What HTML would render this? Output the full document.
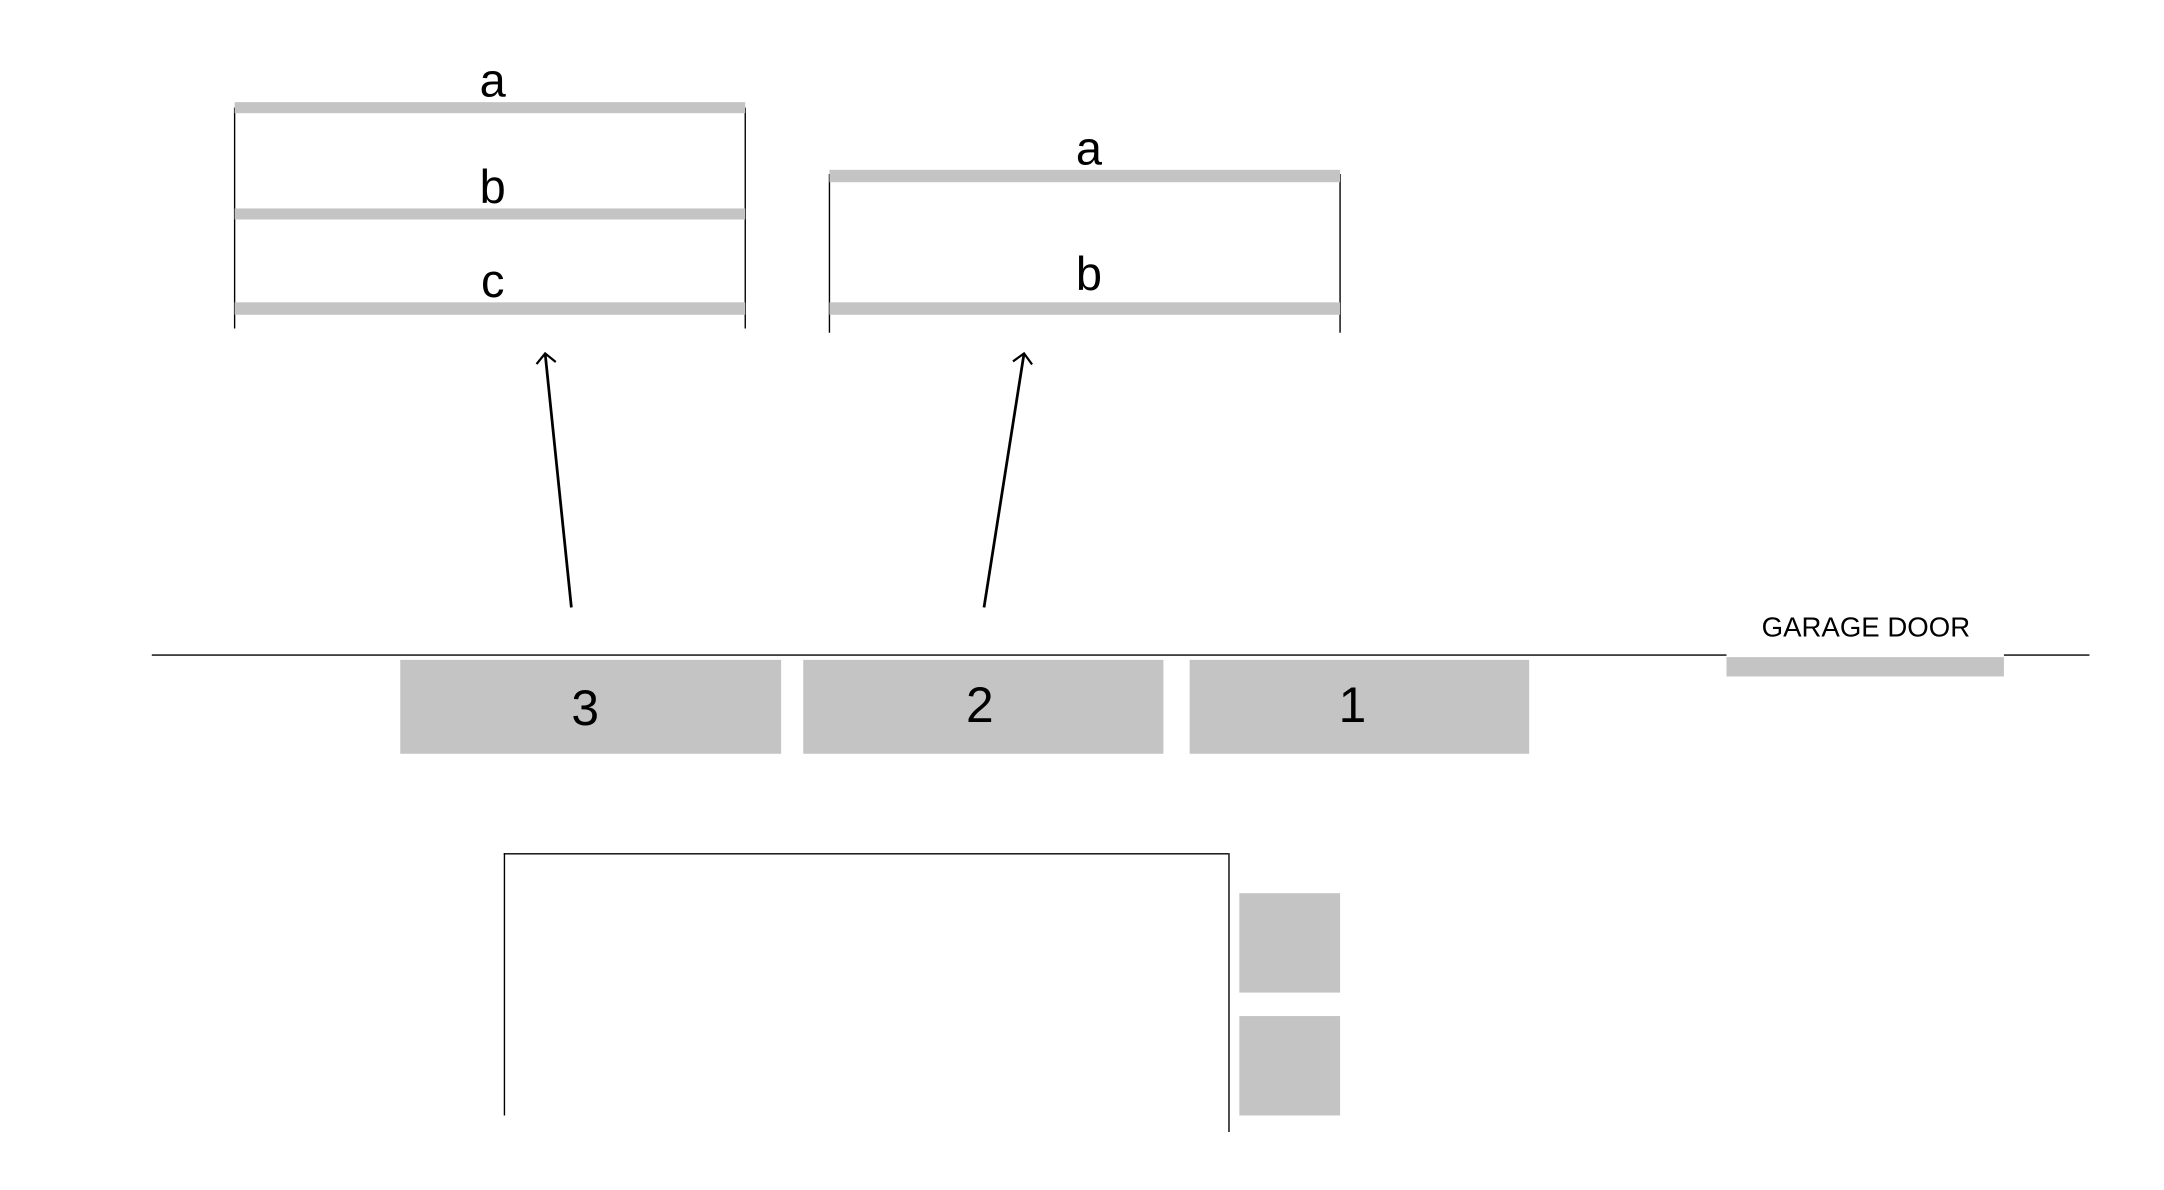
<!DOCTYPE html>
<html><head><meta charset="utf-8"><style>
html,body{margin:0;padding:0;background:#fff;}
svg{display:block;}
text{font-family:"Liberation Sans",sans-serif;fill:#000;}
</style></head><body>
<svg width="2164" height="1190" viewBox="0 0 1568 862" preserveAspectRatio="none" xmlns="http://www.w3.org/2000/svg">
<defs><marker id="ah" markerWidth="16" markerHeight="16" refX="8" refY="8" orient="auto" markerUnits="userSpaceOnUse"><path d="M1,1 L8,8 L1,15" fill="none" stroke="#000" stroke-width="1.6"/></marker></defs>
<g>
<line x1="170" y1="78" x2="170" y2="238" stroke="#000" stroke-width="1"/>
<line x1="540" y1="78" x2="540" y2="238" stroke="#000" stroke-width="1"/>
<rect x="170" y="74" width="370" height="8" fill="#c4c4c4"/>
<rect x="170" y="151" width="370" height="8" fill="#c4c4c4"/>
<rect x="170" y="219" width="370" height="9" fill="#c4c4c4"/>
<text x="357" y="70" font-size="34" text-anchor="middle">a</text>
<text x="357" y="147" font-size="34" text-anchor="middle">b</text>
<text x="357" y="215" font-size="34" text-anchor="middle">c</text>
</g>
<g>
<line x1="601" y1="126" x2="601" y2="241" stroke="#000" stroke-width="1"/>
<line x1="971" y1="126" x2="971" y2="241" stroke="#000" stroke-width="1"/>
<rect x="601" y="123" width="370" height="9" fill="#c4c4c4"/>
<rect x="601" y="219" width="370" height="9" fill="#c4c4c4"/>
<text x="789" y="119" font-size="34" text-anchor="middle">a</text>
<text x="789" y="210" font-size="34" text-anchor="middle">b</text>
</g>
<line x1="414" y1="440" x2="395" y2="256" stroke="#000" stroke-width="2" marker-end="url(#ah)"/>
<line x1="713" y1="440" x2="742" y2="256" stroke="#000" stroke-width="2" marker-end="url(#ah)"/>
<line x1="110" y1="474.5" x2="1251" y2="474.5" stroke="#000" stroke-width="1"/>
<line x1="1452" y1="474.5" x2="1514" y2="474.5" stroke="#000" stroke-width="1"/>
<rect x="1251" y="476" width="201" height="14" fill="#c4c4c4"/>
<text x="1352" y="461" font-size="20" text-anchor="middle">GARAGE DOOR</text>
<g><rect x="290" y="478" width="276" height="68" fill="#c4c4c4"/><text x="424" y="525" font-size="36" text-anchor="middle">3</text></g>
<g><rect x="582" y="478" width="261" height="68" fill="#c4c4c4"/><text x="710" y="523" font-size="36" text-anchor="middle">2</text></g>
<g><rect x="862" y="478" width="246" height="68" fill="#c4c4c4"/><text x="980" y="523" font-size="36" text-anchor="middle">1</text></g>
<g fill="none" stroke="#000" stroke-width="1">
<line x1="365" y1="618.5" x2="890" y2="618.5"/>
<line x1="365.5" y1="618" x2="365.5" y2="808"/>
<line x1="890.5" y1="618" x2="890.5" y2="820"/>
</g>
<rect x="898" y="647" width="73" height="72" fill="#c4c4c4"/>
<rect x="898" y="736" width="73" height="72" fill="#c4c4c4"/>
</svg>
</body></html>
